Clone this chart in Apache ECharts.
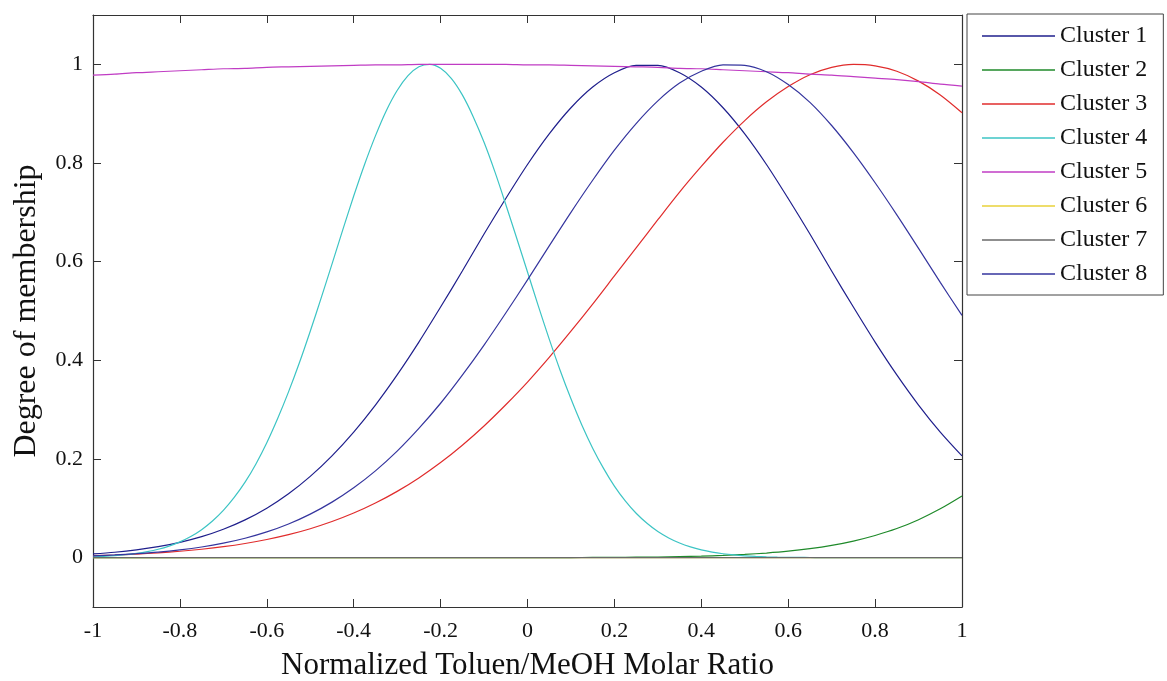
<!DOCTYPE html>
<html>
<head>
<meta charset="utf-8">
<title>Degree of membership</title>
<script src="https://cdn.jsdelivr.net/npm/echarts@6/dist/echarts.min.js"></script>
<style>
  html, body { margin: 0; padding: 0; background: #ffffff; }
  #chart { width: 1167px; height: 681px; }
</style>
</head>
<body>
<div id="chart"></div>
<script>
// Normalized Toluen/MeOH molar ratio, sampled every 0.05
const xValues = [
  -1.00, -0.95, -0.90, -0.85, -0.80, -0.75, -0.70, -0.65, -0.60, -0.55,
  -0.50, -0.45, -0.40, -0.35, -0.30, -0.25, -0.20, -0.15, -0.10, -0.05,
   0.00,  0.05,  0.10,  0.15,  0.20,  0.25,  0.30,  0.35,  0.40,  0.45,
   0.50,  0.55,  0.60,  0.65,  0.70,  0.75,  0.80,  0.85,  0.90,  0.95, 1.00
];
// Finer sampling (every 0.025) for the narrow Cluster 4 peak
const xFine = [
  -1.000, -0.975, -0.950, -0.925, -0.900, -0.875, -0.850, -0.825, -0.800, -0.775,
  -0.750, -0.725, -0.700, -0.675, -0.650, -0.625, -0.600, -0.575, -0.550, -0.525,
  -0.500, -0.475, -0.450, -0.425, -0.400, -0.375, -0.350, -0.325, -0.300, -0.275,
  -0.250, -0.225, -0.200, -0.175, -0.150, -0.125, -0.100, -0.075, -0.050, -0.025,
   0.000,  0.025,  0.050,  0.075,  0.100,  0.125,  0.150,  0.175,  0.200,  0.225,
   0.250,  0.275,  0.300,  0.325,  0.350,  0.375,  0.400,  0.425,  0.450,  0.475,
   0.500,  0.525,  0.550,  0.575,  0.600,  0.625,  0.650,  0.675,  0.700,  0.725,
   0.750,  0.775,  0.800,  0.825,  0.850,  0.875,  0.900,  0.925,  0.950,  0.975, 1.000
];

// Membership degree of each cluster at the sample points above
const cluster1 = [
  0.0076, 0.0110, 0.0158, 0.0223, 0.0311, 0.0426, 0.0576, 0.0766, 0.1003, 0.1295,
  0.1647, 0.2064, 0.2546, 0.3094, 0.3705, 0.437, 0.508, 0.581, 0.656, 0.728,
  0.797, 0.859, 0.912, 0.954, 0.983, 0.998, 0.998, 0.983, 0.954, 0.912,
  0.859, 0.797, 0.728, 0.656, 0.581, 0.508, 0.437, 0.3705, 0.3094, 0.2546, 0.2064
];
const cluster2 = [
  0, 0, 0, 0, 0, 0, 0, 0, 0, 0,
  0, 0, 0, 0, 0, 0, 0, 0, 0, 0,
  0.0001, 0.00015, 0.00025, 0.0004, 0.0006, 0.0009, 0.0014, 0.0021, 0.0031, 0.0046,
  0.0066, 0.0094, 0.0131, 0.0182, 0.0249, 0.0337, 0.045, 0.059, 0.077, 0.099, 0.125
];
const cluster3 = [
  0.0040, 0.0054, 0.0073, 0.0098, 0.0130, 0.0171, 0.0222, 0.0287, 0.0368, 0.0466,
  0.0587, 0.0732, 0.0904, 0.1108, 0.1344, 0.1617, 0.1928, 0.228, 0.267, 0.310,
  0.356, 0.406, 0.459, 0.514, 0.571, 0.628, 0.685, 0.741, 0.793, 0.842,
  0.886, 0.924, 0.955, 0.979, 0.994, 1.000, 0.997, 0.986, 0.966, 0.938, 0.902
];
// Cluster 4 uses xFine
const cluster4 = [
  0.0019, 0.0028, 0.0041, 0.0060, 0.0086, 0.0122, 0.0170, 0.0235, 0.0320, 0.0429,
  0.0568, 0.0743, 0.0958, 0.122, 0.153, 0.190, 0.233, 0.282, 0.336, 0.395,
  0.459, 0.526, 0.595, 0.665, 0.733, 0.797, 0.855, 0.906, 0.947, 0.977,
  0.995, 1.000, 0.992, 0.971, 0.938, 0.894, 0.842, 0.782, 0.716, 0.648,
  0.579, 0.510, 0.443, 0.380, 0.322, 0.269, 0.222, 0.181, 0.145, 0.115,
  0.090, 0.0697, 0.053, 0.040, 0.0297, 0.0218, 0.0157, 0.0112, 0.0079, 0.0055,
  0.0038, 0.0026, 0.0017, 0.0011, 0.0007, 0.0005, 0.0003, 0.0002, 0.0001, 0.0001,
  0, 0, 0, 0, 0, 0, 0, 0, 0, 0, 0
];
const cluster5 = [
  0.978, 0.980, 0.983, 0.985, 0.987, 0.989, 0.991, 0.992, 0.994, 0.995,
  0.996, 0.997, 0.998, 0.999, 0.999, 1.000, 1.000, 1.000, 1.000, 1.000,
  0.999, 0.999, 0.998, 0.997, 0.996, 0.995, 0.994, 0.992, 0.991, 0.989,
  0.987, 0.985, 0.983, 0.980, 0.978, 0.975, 0.972, 0.969, 0.965, 0.960, 0.956
];
const cluster6 = [
  0, 0, 0, 0, 0, 0, 0, 0, 0, 0, 0, 0, 0, 0, 0, 0, 0, 0, 0, 0, 0,
  0, 0, 0, 0, 0, 0, 0, 0, 0, 0, 0, 0, 0, 0, 0, 0, 0, 0, 0, 0
];
const cluster7 = [
  0, 0, 0, 0, 0, 0, 0, 0, 0, 0, 0, 0, 0, 0, 0, 0, 0, 0, 0, 0, 0,
  0, 0, 0, 0, 0, 0, 0, 0, 0, 0, 0, 0, 0, 0, 0, 0, 0, 0, 0, 0
];
const cluster8 = [
  0.0038, 0.0056, 0.0080, 0.0112, 0.0157, 0.0216, 0.0294, 0.0394, 0.0522, 0.0683,
  0.0883, 0.1126, 0.1417, 0.176, 0.216, 0.262, 0.313, 0.370, 0.431, 0.496,
  0.563, 0.632, 0.700, 0.765, 0.826, 0.880, 0.926, 0.962, 0.986, 0.999,
  0.998, 0.985, 0.959, 0.923, 0.876, 0.821, 0.760, 0.695, 0.627, 0.558, 0.491
];

const clusterNames = ['Cluster 1', 'Cluster 2', 'Cluster 3', 'Cluster 4',
                      'Cluster 5', 'Cluster 6', 'Cluster 7', 'Cluster 8'];
const clusterValues = [cluster1, cluster2, cluster3, cluster4,
                       cluster5, cluster6, cluster7, cluster8];
const clusterX = [xValues, xValues, xValues, xFine,
                  xValues, xValues, xValues, xValues];
const clusterColors = ['#1f1f8c', '#1f8a2a', '#e02c2c', '#3cc4c4',
                       '#c03cc4', '#e8d23a', '#6a6a6a', '#35359e'];

const xTicks = [-1, -0.8, -0.6, -0.4, -0.2, 0, 0.2, 0.4, 0.6, 0.8, 1];
const yTicks = [0, 0.2, 0.4, 0.6, 0.8, 1];

const FONT = '"Liberation Serif", "DejaVu Serif", serif';
const AXIS_COLOR = '#333333';

const series = clusterNames.map((name, i) => ({
  name: name,
  type: 'line',
  data: clusterX[i].map((x, j) => [x, clusterValues[i][j]]),
  symbol: 'none',
  smooth: 0.3,
  color: clusterColors[i],
  lineStyle: { width: 1.2, color: clusterColors[i] },
  emphasis: { disabled: true },
  animation: false,
  z: 2 + i
}));

function tickLabel(v) {
  return String(Math.round(v * 10) / 10);
}

const chart = echarts.init(document.getElementById('chart'), null, { renderer: 'canvas' });
chart.setOption({
  backgroundColor: '#ffffff',
  animation: false,
  grid: { left: 93, right: 205, top: 15, bottom: 74, containLabel: false, outerBoundsMode: 'none' },
  legend: {
    orient: 'vertical',
    left: 967,
    top: 14,
    data: clusterNames,
    icon: 'rect',
    itemWidth: 73,
    itemHeight: 1.5,
    itemGap: 10,
    padding: [10, 16, 9, 15],
    borderColor: '#444444',
    borderWidth: 1,
    backgroundColor: '#ffffff',
    selectedMode: false,
    textStyle: { fontFamily: FONT, fontSize: 24, lineHeight: 24, color: '#111111', padding: [0, 0, 0, 0] }
  },
  xAxis: [
    {
      type: 'value', position: 'bottom', min: -1, max: 1, interval: 0.2,
      name: 'Normalized Toluen/MeOH Molar Ratio',
      nameLocation: 'middle', nameGap: 43,
      nameTextStyle: { fontFamily: FONT, fontSize: 31, color: '#111111' },
      axisLine: { show: true, onZero: false, lineStyle: { color: AXIS_COLOR, width: 1.2 } },
      axisTick: { show: true, inside: true, length: 8, lineStyle: { color: AXIS_COLOR },
                  customValues: xTicks },
      axisLabel: { fontFamily: FONT, fontSize: 22, color: '#111111', margin: 13,
                   customValues: xTicks, formatter: tickLabel },
      splitLine: { show: false }
    },
    {
      type: 'value', position: 'top', min: -1, max: 1, interval: 0.2,
      axisLine: { show: true, onZero: false, lineStyle: { color: AXIS_COLOR, width: 1.2 } },
      axisTick: { show: true, inside: true, length: 8, lineStyle: { color: AXIS_COLOR },
                  customValues: xTicks },
      axisLabel: { show: false },
      splitLine: { show: false }
    }
  ],
  yAxis: [
    {
      type: 'value', position: 'left', min: -0.1, max: 1.1,
      name: 'Degree of membership',
      nameLocation: 'middle', nameGap: 50, nameRotate: 90,
      nameTextStyle: { fontFamily: FONT, fontSize: 32, color: '#111111' },
      axisLine: { show: true, onZero: false, lineStyle: { color: AXIS_COLOR, width: 1.2 } },
      axisTick: { show: true, inside: true, length: 8, lineStyle: { color: AXIS_COLOR },
                  customValues: yTicks },
      axisLabel: { fontFamily: FONT, fontSize: 22, color: '#111111', margin: 10,
                   customValues: yTicks, formatter: tickLabel },
      splitLine: { show: false }
    },
    {
      type: 'value', position: 'right', min: -0.1, max: 1.1,
      axisLine: { show: true, onZero: false, lineStyle: { color: AXIS_COLOR, width: 1.2 } },
      axisTick: { show: true, inside: true, length: 8, lineStyle: { color: AXIS_COLOR },
                  customValues: yTicks },
      axisLabel: { show: false },
      splitLine: { show: false }
    }
  ],
  series: series
});
</script>
</body>
</html>
